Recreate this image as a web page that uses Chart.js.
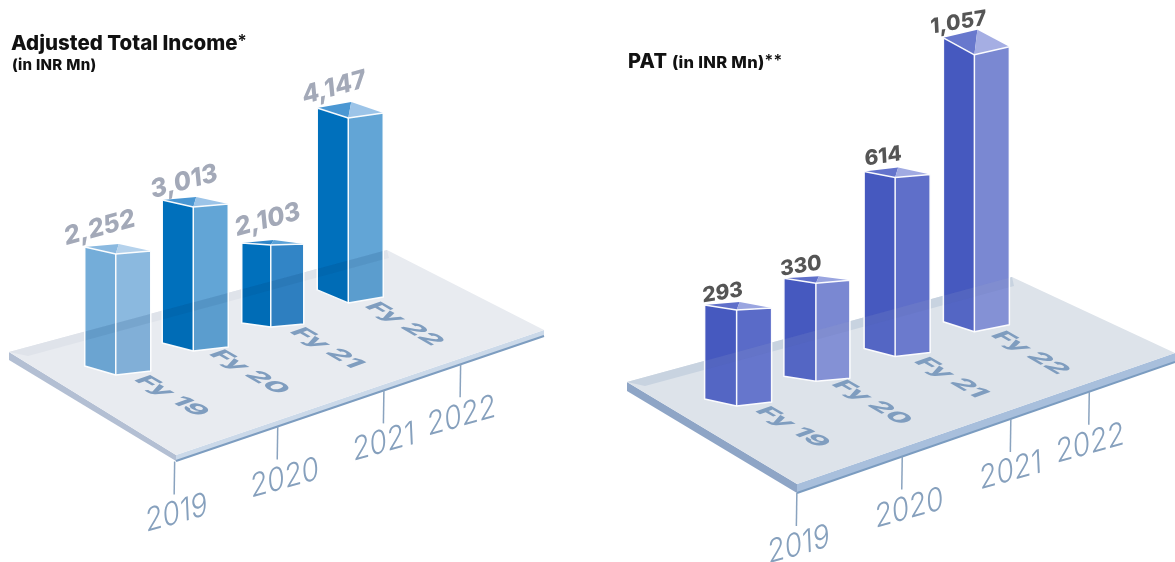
<!DOCTYPE html>
<html>
<head>
<meta charset="utf-8">
<title>Adjusted Total Income and PAT</title>
<script src="https://cdn.jsdelivr.net/npm/chart.js@4"></script>
<style>
    html, body { margin: 0; padding: 0; background: #fff; }
    #page { position: relative; width: 1175px; height: 562px; overflow: hidden; font-family: Inter, sans-serif; color: #111; }
    canvas { position: absolute; left: 0; top: 0; }
    .title { position: absolute; font-weight: 800; white-space: nowrap; line-height: 1; }
</style>
</head>
<body>
<div id="page">
    <canvas id="incomeChart" width="1175" height="562"></canvas>
    <canvas id="patChart" width="1175" height="562"></canvas>
    <div class="title" style="left: 11px; top: 33px; font-size: 20.5px;">Adjusted Total Income<span style="font-size: 17px; font-weight: 600; vertical-align: 3px;">*</span></div>
    <div class="title" style="left: 12px; top: 57px; font-size: 15px; letter-spacing: 0.3px;">(in INR Mn)</div>
    <div class="title" style="left: 628px; top: 51px; font-size: 20px; letter-spacing: 0.3px;">PAT <span style="font-size: 16.5px;">(in INR Mn)</span><span style="font-size: 16px; font-weight: 600; vertical-align: 2px;">**</span></div>
</div>
<script>
// =====================================================
// DATA
// =====================================================
const fyLabels = ['Fy 19', 'Fy 20', 'Fy 21', 'Fy 22'];
const yearLabels = ['2019', '2020', '2021', '2022'];
const incomeValues = [2252, 3013, 2103, 4147];
const patValues = [293, 330, 614, 1057];

// The artwork's bars are not to scale with their printed values, so each
// axis maps value -> drawn height (px) the way the picture does.
const incomeDrawnHeights = [121, 144, 82, 185];
const patDrawnHeights = [96, 98, 179, 277];

// =====================================================
// AXIS THAT FOLLOWS THE PICTURE
// =====================================================
class PictureScale extends Chart.LinearScale {
    static id = 'picture';
    static defaults = Chart.LinearScale.defaults;

    getPixelForValue(value) {
        const vals = this.options.anchorValues;
        const px = this.options.anchorHeights;
        let pairs = [[0, 0]];
        for (let i = 0; i < vals.length; i++) pairs.push([vals[i], px[i]]);
        pairs.sort((a, b) => a[0] - b[0]);
        for (let i = 1; i < pairs.length; i++) {
            if (value <= pairs[i][0]) {
                const k = (value - pairs[i - 1][0]) / (pairs[i][0] - pairs[i - 1][0]);
                return this.bottom - (pairs[i - 1][1] + k * (pairs[i][1] - pairs[i - 1][1]));
            }
        }
        return this.bottom - pairs[pairs.length - 1][1];
    }
}
Chart.register(PictureScale);

// =====================================================
// PANEL LOOK
// =====================================================
const yearTickPos = [0.76, 2.09, 3.46, 4.45];
const yearLabelDx = [2, 7, 0, 1];

const incomeLook = {
    padding: { left: 77, right: 788, bottom: 187 },
    slope: -0.31,
    floor: { left: [9, 352], far: [387, 250], right: [544, 330], near: [176, 455], bandEnd: [389, 258], bandStart: [28, 356], thickL: 8, thickN: 6, thickR: 6 },
    floorColor: '#e8ebf0', bandColor: '#dfe3ea', sideL: '#b3bfd3', sideN: '#cbd9e9', edge: '#7d9dc0', tick: '#8aa3bf',
    widths: [[31, 35], [31, 35], [29, 33], [31, 35]],
    topDrops: [[7, 3, 10], [7, 3, 10], [2, 1, 5], [10, 5, 16]],
    baseDrops: [[9, 4], [8, 4], [4, 3], [13, 6]],
    leftFaces: ['#74add9', '#0070bc', '#0070bc', '#0070bc'],
    rightFaces: ['#8bb9df', '#62a5d6', '#3285c6', '#62a5d6'],
    topLeft: ['#8ab9e0', '#4a97d3', '#2f86c9', '#4a97d3'],
    topRight: ['#b5d2ec', '#9cc4e8', '#5ba2d8', '#9cc4e8'],
    floorTint: 'rgba(0, 50, 110, 0.07)', bandTint: 'rgba(0, 40, 90, 0.07)',
    valueColor: '#a3a9b8', valueFont: '800 25px Inter, sans-serif',
    valueOffsets: [[-16, -16], [-9, -15], [-3, -15], [-14, -20]],
    valueTilt: [0.965, -0.26, 0.1, 1.02]
};

const patLook = {
    padding: { left: 697, right: 161, bottom: 156 },
    slope: -0.312,
    floor: { left: [627, 382], far: [1012, 277], right: [1175, 353], near: [797, 484], bandEnd: [1014, 286], bandStart: [645, 386], thickL: 9, thickN: 9, thickR: 9 },
    floorColor: '#dde3ea', bandColor: '#c8d3e0', sideL: '#8ea5c6', sideN: '#a8bfdc', edge: '#7b9cc0', tick: '#8aa3bf',
    widths: [[32, 35], [32, 34], [31, 35], [31, 35]],
    topDrops: [[5, 2, 8], [5, 3, 7], [6, 3, 10], [17, 8, 25]],
    baseDrops: [[7, 4], [5, 3], [8, 4], [10, 7]],
    leftFaces: ['#4659bf', '#4659bf', '#4659bf', '#4659bf'],
    rightFaces: ['#5a6bc8', '#7a88d2', '#5f6fc9', '#7a88d2'],
    topLeft: ['#5f6fca', '#5f6fca', '#6373cc', '#6878cd'],
    topRight: ['#9aa5e0', '#9aa5e0', '#a0aae2', '#a5aee3'],
    floorTint: 'rgba(255, 255, 255, 0.08)', bandTint: 'rgba(60, 80, 130, 0.06)',
    valueColor: '#555555', valueFont: '800 21px Inter, sans-serif',
    valueOffsets: [[-14, -7], [-15, -7], [-12, -11], [-16, -22]],
    valueTilt: [0.985, -0.16, 0.05, 1]
};

// =====================================================
// DRAWING HELPERS
// =====================================================
function poly(ctx, pts) {
    ctx.beginPath();
    pts.forEach((p, i) => i ? ctx.lineTo(p[0], p[1]) : ctx.moveTo(p[0], p[1]));
    ctx.closePath();
}

function fillPoly(ctx, pts, color) {
    poly(ctx, pts);
    ctx.fillStyle = color;
    ctx.fill();
}

function shearedText(ctx, text, x, y, m, font, color) {
    ctx.save();
    ctx.transform(m[0], m[1], m[2], m[3], x, y);
    ctx.font = font;
    ctx.fillStyle = color;
    ctx.textAlign = 'center';
    ctx.textBaseline = 'middle';
    ctx.fillText(text, 0, 0);
    ctx.restore();
}

function floorPts(f) {
    return [f.left, f.far, f.right, f.near];
}

function drawFloor(chart, look) {
    const ctx = chart.ctx;
    const f = look.floor;
    const x = chart.scales.x;
    fillPoly(ctx, [f.left, f.near, [f.near[0], f.near[1] + look.floor.thickN], [f.left[0], f.left[1] + f.thickL]], look.sideL);
    fillPoly(ctx, [f.near, f.right, [f.right[0], f.right[1] + f.thickR], [f.near[0], f.near[1] + f.thickN]], look.sideN);
    fillPoly(ctx, floorPts(f), look.floorColor);
    fillPoly(ctx, [f.left, f.far, f.bandEnd, f.bandStart], look.bandColor);

    const nearBottom = [f.near[0], f.near[1] + f.thickN];
    const rightBottom = [f.right[0], f.right[1] + f.thickR];
    ctx.beginPath();
    ctx.moveTo(nearBottom[0], nearBottom[1]);
    ctx.lineTo(rightBottom[0], rightBottom[1]);
    ctx.strokeStyle = look.edge;
    ctx.lineWidth = 2;
    ctx.stroke();

    // year ticks hang off the front edge of the floor
    const edgeSlope = (rightBottom[1] - nearBottom[1]) / (rightBottom[0] - nearBottom[0]);
    yearLabels.forEach((year, i) => {
        const px = x.getPixelForValue(yearTickPos[i]);
        const py = nearBottom[1] + edgeSlope * (px - nearBottom[0]);
        ctx.beginPath();
        ctx.moveTo(px, py);
        ctx.lineTo(px - 0.5, py + 33);
        ctx.strokeStyle = look.tick;
        ctx.lineWidth = 1.5;
        ctx.stroke();
        shearedText(ctx, year, px + yearLabelDx[i], py + 52, [0.96, -0.27, 0.05, 1.12], '300 29px Inter, sans-serif', '#86a0bd');
    });
}

function drawPrism(chart, look, bar, i) {
    const ctx = chart.ctx;
    const first = chart.getDatasetMeta(0).data[0];
    const skew = look.slope * (bar.x - first.x);
    const x = bar.x;
    const top = bar.y + skew;
    const base = bar.base + skew;
    const L = x - look.widths[i][0];
    const R = x + look.widths[i][1];
    const drop = look.topDrops[i];
    const bDrop = look.baseDrops[i];

    const leftFace = [[L, top - drop[0]], [x, top], [x, base], [L, base - bDrop[0]]];
    const rightFace = [[x, top], [R, top - drop[1]], [R, base - bDrop[1]], [x, base]];
    const back = [x + 3, top - drop[2]];

    fillPoly(ctx, leftFace, look.leftFaces[i]);
    fillPoly(ctx, rightFace, look.rightFaces[i]);
    fillPoly(ctx, [leftFace[0], back, [x, top]], look.topLeft[i]);
    fillPoly(ctx, [[x, top], back, rightFace[1]], look.topRight[i]);

    // floor shows through the glass bars
    const outline = [leftFace[0], [x, top], rightFace[1], rightFace[2], [x, base], leftFace[3]];
    ctx.save();
    poly(ctx, outline);
    ctx.clip();
    fillPoly(ctx, floorPts(look.floor), look.floorTint);
    fillPoly(ctx, [look.floor.left, look.floor.far, look.floor.bandEnd, look.floor.bandStart], look.bandTint);
    ctx.restore();

    // white glass edges
    ctx.strokeStyle = 'rgba(255, 255, 255, 0.95)';
    ctx.lineWidth = 1.5;
    ctx.lineJoin = 'round';
    poly(ctx, outline);
    ctx.stroke();
    ctx.beginPath();
    ctx.moveTo(x, top);
    ctx.lineTo(x, base);
    ctx.stroke();
}

function drawLabels(chart, look, bar, i, values) {
    const first = chart.getDatasetMeta(0).data[0];
    const skew = look.slope * (bar.x - first.x);
    const off = look.valueOffsets[i];
    shearedText(chart.ctx, values[i].toLocaleString('en-US'), bar.x + off[0], bar.y + skew + off[1] - 10, look.valueTilt, look.valueFont, look.valueColor);
    // the Fy captions lie flat on the floor
    shearedText(chart.ctx, fyLabels[i], bar.x + 56, bar.base + skew + 21, [0.86, 0.5, -0.72, 0.26], '800 30px Inter, sans-serif', '#7f9dbf');
}

// =====================================================
// CHARTS
// =====================================================
function makeChart(id, values, heights, look) {
    const glassBars = {
        id: 'glassBars',
        beforeDatasetsDraw(chart) {
            drawFloor(chart, look);
        },
        afterDatasetsDraw(chart) {
            const bars = chart.getDatasetMeta(0).data;
            bars.forEach((bar, i) => drawPrism(chart, look, bar, i));
            bars.forEach((bar, i) => drawLabels(chart, look, bar, i, values));
        }
    };
    return new Chart(document.getElementById(id).getContext('2d'), {
        type: 'bar',
        data: {
            labels: fyLabels,
            datasets: [{ data: values, backgroundColor: 'transparent', borderWidth: 0 }]
        },
        options: {
            responsive: false,
            animation: false,
            events: [],
            layout: { padding: { top: 0, left: look.padding.left, right: look.padding.right, bottom: look.padding.bottom } },
            plugins: { legend: { display: false }, tooltip: { enabled: false } },
            scales: {
                x: { display: false },
                y: {
                    type: 'picture',
                    display: false,
                    min: 0,
                    max: Math.max(...values),
                    anchorValues: values,
                    anchorHeights: heights
                }
            }
        },
        plugins: [glassBars]
    });
}

makeChart('incomeChart', incomeValues, incomeDrawnHeights, incomeLook);
makeChart('patChart', patValues, patDrawnHeights, patLook);
</script>
</body>
</html>
